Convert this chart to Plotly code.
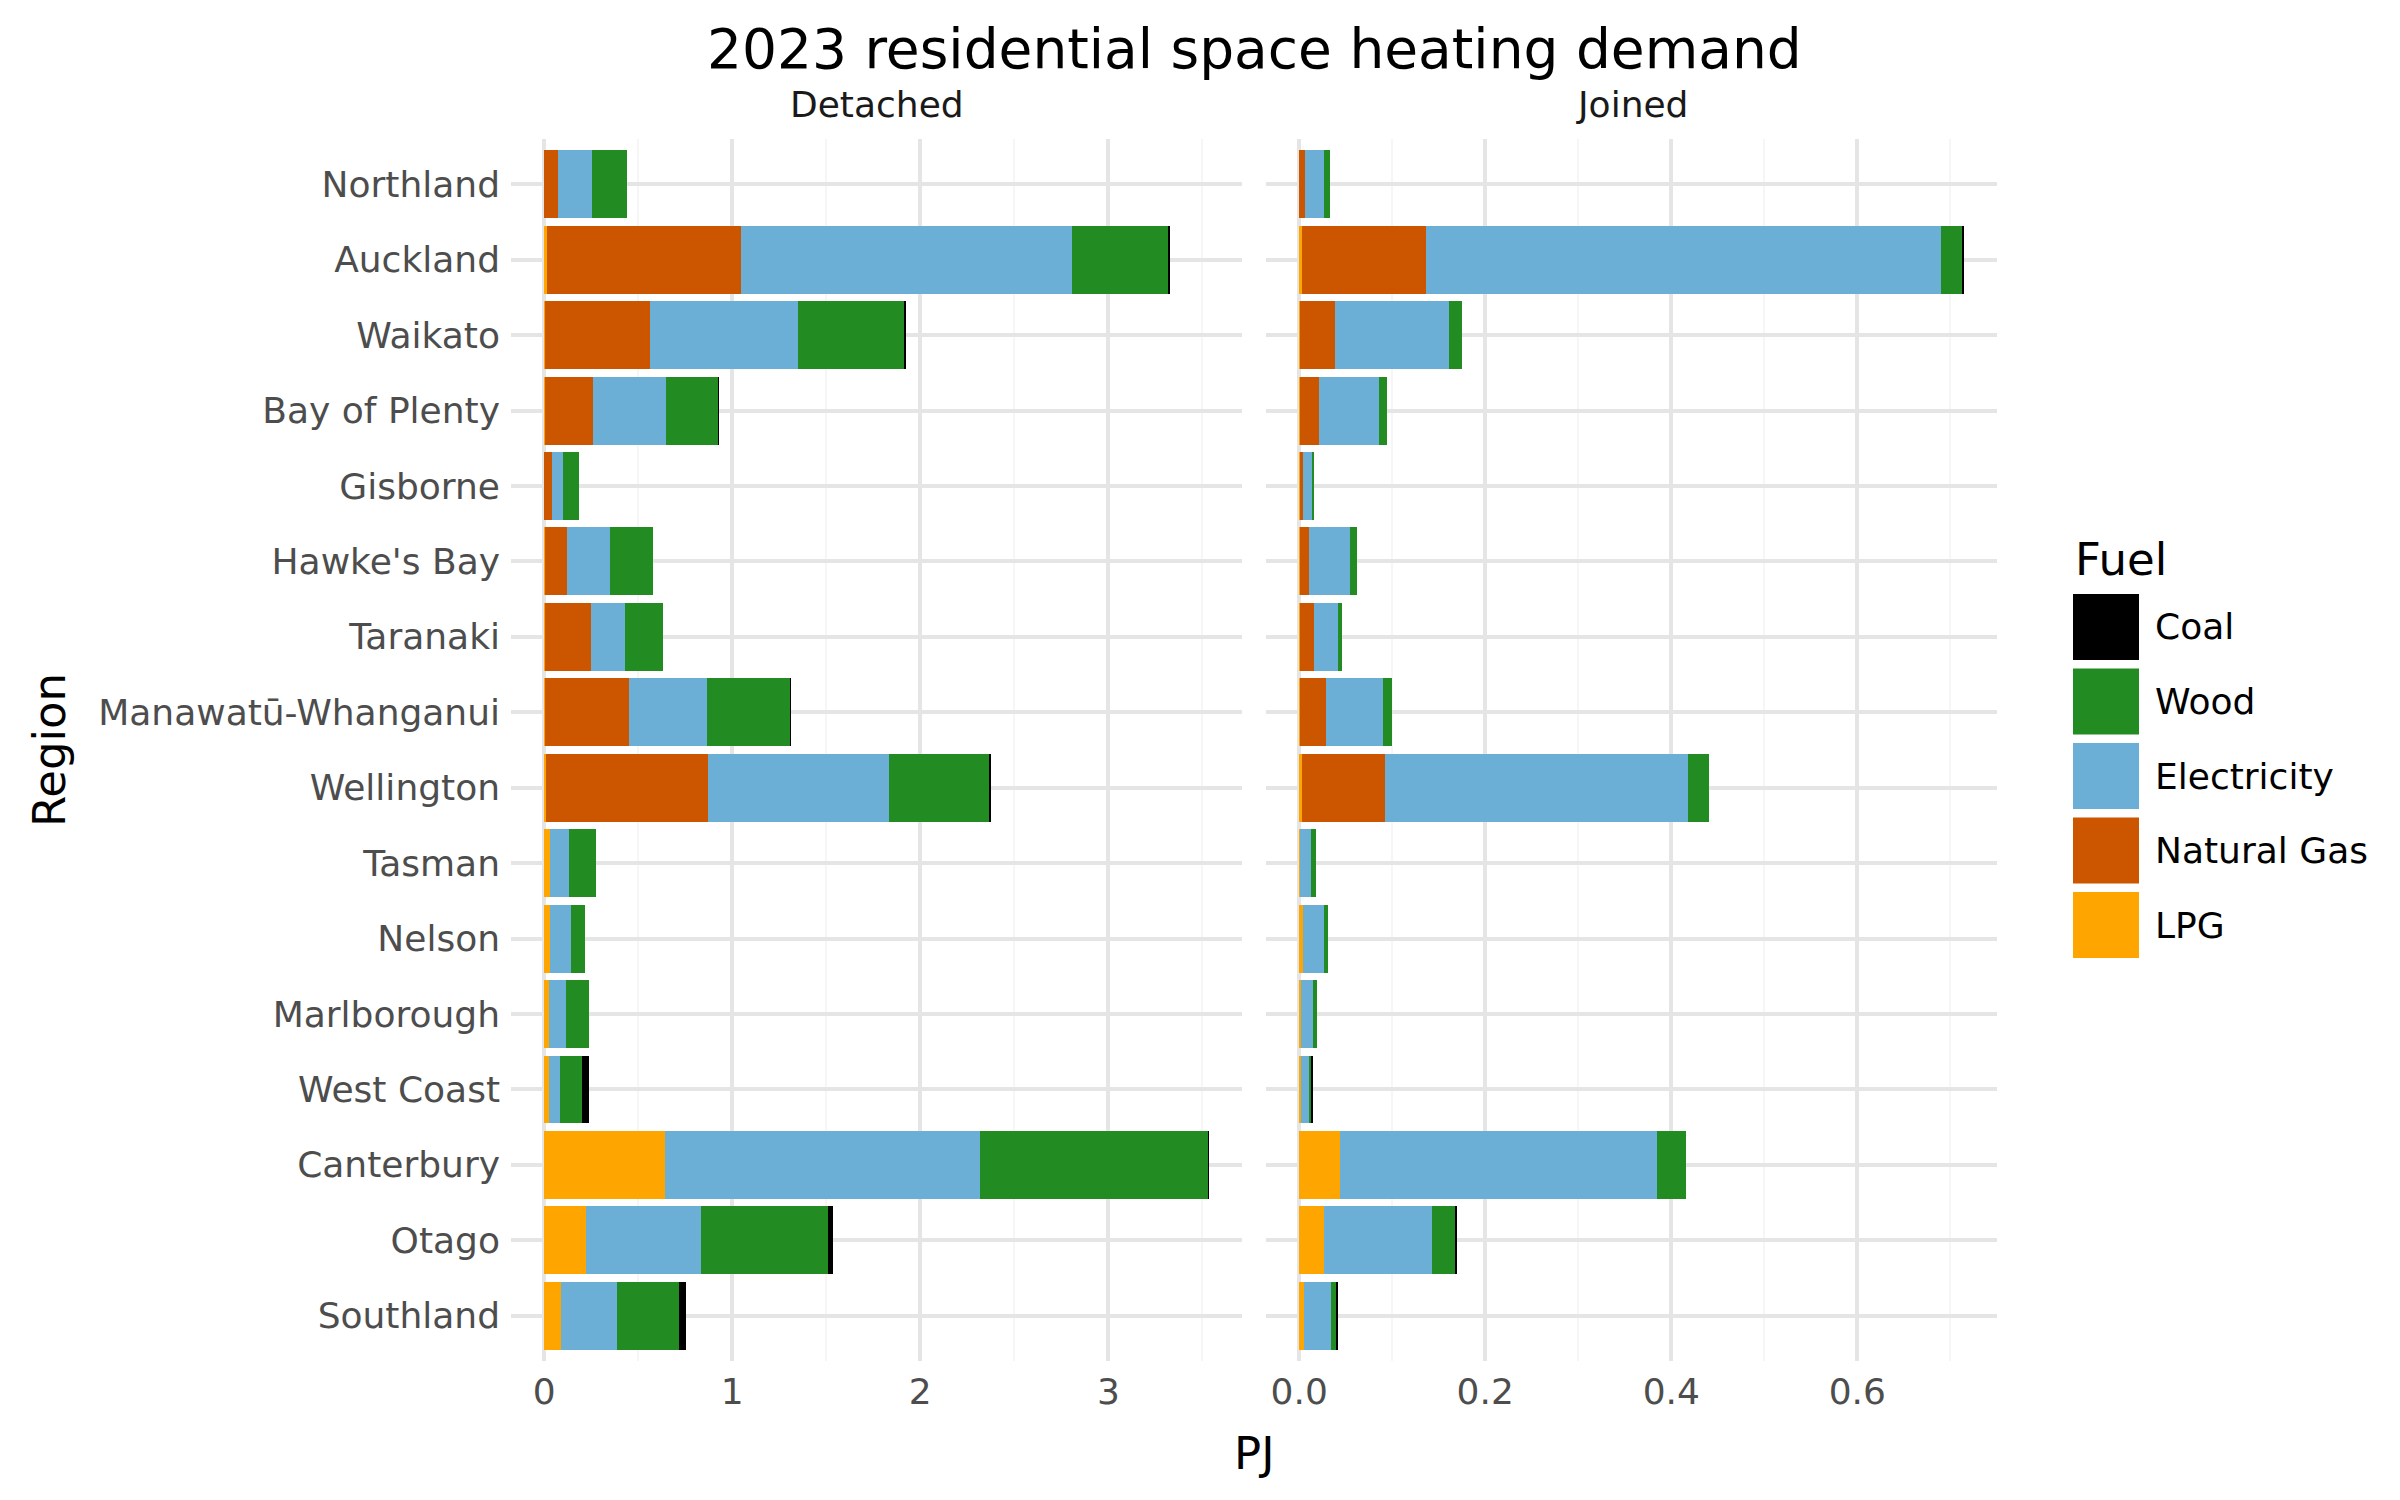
import plotly.graph_objects as go

# ---------------- data ----------------
regions = ["Northland", "Auckland", "Waikato", "Bay of Plenty", "Gisborne",
           "Hawke's Bay", "Taranaki", "Manawatū-Whanganui", "Wellington",
           "Tasman", "Nelson", "Marlborough", "West Coast", "Canterbury",
           "Otago", "Southland"]

fuels = ["LPG", "Natural Gas", "Electricity", "Wood", "Coal"]
fuel_colors = ["#FFA500", "#CC5500", "#6BAED6", "#228B22", "#000000"]
legend_order = ["Coal", "Wood", "Electricity", "Natural Gas", "LPG"]
facets = ["Detached", "Joined"]

# Detached dwellings (PJ)
det_lpg = [0.0, 0.016, 0.004, 0.002, 0.001, 0.002, 0.002, 0.004, 0.010,
           0.032, 0.032, 0.027, 0.027, 0.643, 0.222, 0.090]
det_gas = [0.073, 1.033, 0.557, 0.257, 0.042, 0.121, 0.247, 0.448, 0.862,
           0.0, 0.0, 0.0, 0.0, 0.0, 0.0, 0.0]
det_elec = [0.181, 1.755, 0.787, 0.389, 0.059, 0.227, 0.181, 0.411, 0.963,
            0.100, 0.110, 0.090, 0.059, 1.677, 0.614, 0.298]
det_wood = [0.186, 0.518, 0.570, 0.279, 0.081, 0.230, 0.203, 0.447, 0.533,
            0.144, 0.076, 0.122, 0.115, 1.210, 0.675, 0.330]
det_coal = [0.0, 0.004, 0.004, 0.001, 0.0, 0.0, 0.0, 0.001, 0.004,
            0.0, 0.0, 0.0, 0.039, 0.004, 0.027, 0.037]

# Joined dwellings (PJ)
joi_lpg = [0.0, 0.0025, 0.001, 0.001, 0.0005, 0.0005, 0.001, 0.001, 0.0025,
           0.001, 0.004, 0.002, 0.002, 0.044, 0.027, 0.005]
joi_gas = [0.006, 0.134, 0.037, 0.020, 0.004, 0.010, 0.0147, 0.028, 0.090,
           0.0, 0.0, 0.0, 0.0, 0.0, 0.0, 0.0]
joi_elec = [0.021, 0.554, 0.123, 0.065, 0.0096, 0.044, 0.026, 0.061, 0.326,
            0.0117, 0.023, 0.0127, 0.008, 0.341, 0.116, 0.029]
joi_wood = [0.0056, 0.023, 0.014, 0.0086, 0.002, 0.0076, 0.004, 0.0096, 0.022,
            0.005, 0.0035, 0.004, 0.0035, 0.031, 0.025, 0.0066]
joi_coal = [0.0, 0.001, 0.0, 0.0, 0.0, 0.0, 0.0, 0.0, 0.0,
            0.0, 0.0, 0.0, 0.001, 0.0, 0.001, 0.001]

det_series = [det_lpg, det_gas, det_elec, det_wood, det_coal]
joi_series = [joi_lpg, joi_gas, joi_elec, joi_wood, joi_coal]

# ---------------- figure ----------------
W, H = 2400, 1500
FONT = "DejaVu Sans"
TICK_COLOR = "#4d4d4d"
GRID = "#e5e5e5"
GRID_MINOR = "#f6f6f6"

fig = go.Figure()
for fuel, col, d, j in zip(fuels, fuel_colors, det_series, joi_series):
    fig.add_trace(go.Bar(y=regions, x=d, orientation="h", name=fuel,
                         marker=dict(color=col, line=dict(width=0)),
                         width=0.9, xaxis="x", yaxis="y", showlegend=False))
    fig.add_trace(go.Bar(y=regions, x=j, orientation="h", name=fuel,
                         marker=dict(color=col, line=dict(width=0)),
                         width=0.9, xaxis="x2", yaxis="y2", showlegend=False))

def total(series):
    return max(sum(v) for v in zip(*series))

m1 = total(det_series)
m2 = total(joi_series)

px = lambda v: v / W
py = lambda v: 1 - v / H

ax_common = dict(showline=False, zeroline=False, ticks="", gridcolor=GRID,
                 gridwidth=4, tickfont=dict(size=36, color=TICK_COLOR, family=FONT),
                 ticklabelstandoff=6)

fig.update_layout(
    width=W, height=H,
    margin=dict(l=0, r=0, t=0, b=0),
    paper_bgcolor="white", plot_bgcolor="white",
    barmode="stack",
    font=dict(family=FONT),
    showlegend=False,
    xaxis=dict(domain=[px(511), px(1242)], range=[-0.05 * m1, 1.05 * m1],
               tick0=0, dtick=1, anchor="y",
               minor=dict(dtick=0.5, tick0=0, showgrid=True, gridcolor=GRID_MINOR, gridwidth=2),
               **ax_common),
    xaxis2=dict(domain=[px(1266), px(1997)], range=[-0.05 * m2, 1.05 * m2],
                tick0=0, dtick=0.2, tickformat=".1f", anchor="y2",
                minor=dict(dtick=0.1, tick0=0, showgrid=True, gridcolor=GRID_MINOR, gridwidth=2),
                **ax_common),
    yaxis=dict(domain=[py(1361), py(139)], type="category",
               categoryorder="array", categoryarray=regions[::-1],
               range=[-0.6, len(regions) - 0.4], anchor="x",
               **{**ax_common, "ticklabelstandoff": 10}),
    yaxis2=dict(domain=[py(1361), py(139)], matches="y", anchor="x2",
                showticklabels=False, showline=False, zeroline=False, ticks="",
                gridcolor=GRID, gridwidth=4),
)

ann = []
ann.append(dict(text="2023 residential space heating demand", x=px(1254), y=py(49),
                xref="paper", yref="paper", showarrow=False,
                font=dict(size=55, color="black", family=FONT),
                xanchor="center", yanchor="middle"))
for name, cx in zip(facets, [876.5, 1631.5]):
    ann.append(dict(text=name, x=px(cx), y=py(104), xref="paper", yref="paper",
                    showarrow=False, font=dict(size=36, color="#1a1a1a", family=FONT),
                    xanchor="center", yanchor="middle"))
ann.append(dict(text="PJ", x=px(1254), y=py(1453), xref="paper", yref="paper",
                showarrow=False, font=dict(size=45, color="black", family=FONT),
                xanchor="center", yanchor="middle"))
ann.append(dict(text="Region", x=px(49), y=py(750), xref="paper", yref="paper",
                showarrow=False, textangle=-90,
                font=dict(size=45, color="black", family=FONT),
                xanchor="center", yanchor="middle"))
ann.append(dict(text="Fuel", x=px(2073), y=py(560), xref="paper", yref="paper",
                showarrow=False, font=dict(size=45, color="black", family=FONT),
                xanchor="left", yanchor="middle"))

shapes = []
key_top = 594
key_size = 66
key_step = 74.5
color_of = dict(zip(fuels, fuel_colors))
for i, f in enumerate(legend_order):
    t = key_top + i * key_step
    shapes.append(dict(type="rect", xref="paper", yref="paper",
                       x0=px(2073), x1=px(2073 + key_size),
                       y0=py(t + key_size), y1=py(t),
                       fillcolor=color_of[f], line=dict(width=0)))
    ann.append(dict(text=f, x=px(2153), y=py(t + key_size / 2), xref="paper", yref="paper",
                    showarrow=False, font=dict(size=36, color="black", family=FONT),
                    xanchor="left", yanchor="middle"))

fig.update_layout(annotations=ann, shapes=shapes)

fig.write_html("out.html")
